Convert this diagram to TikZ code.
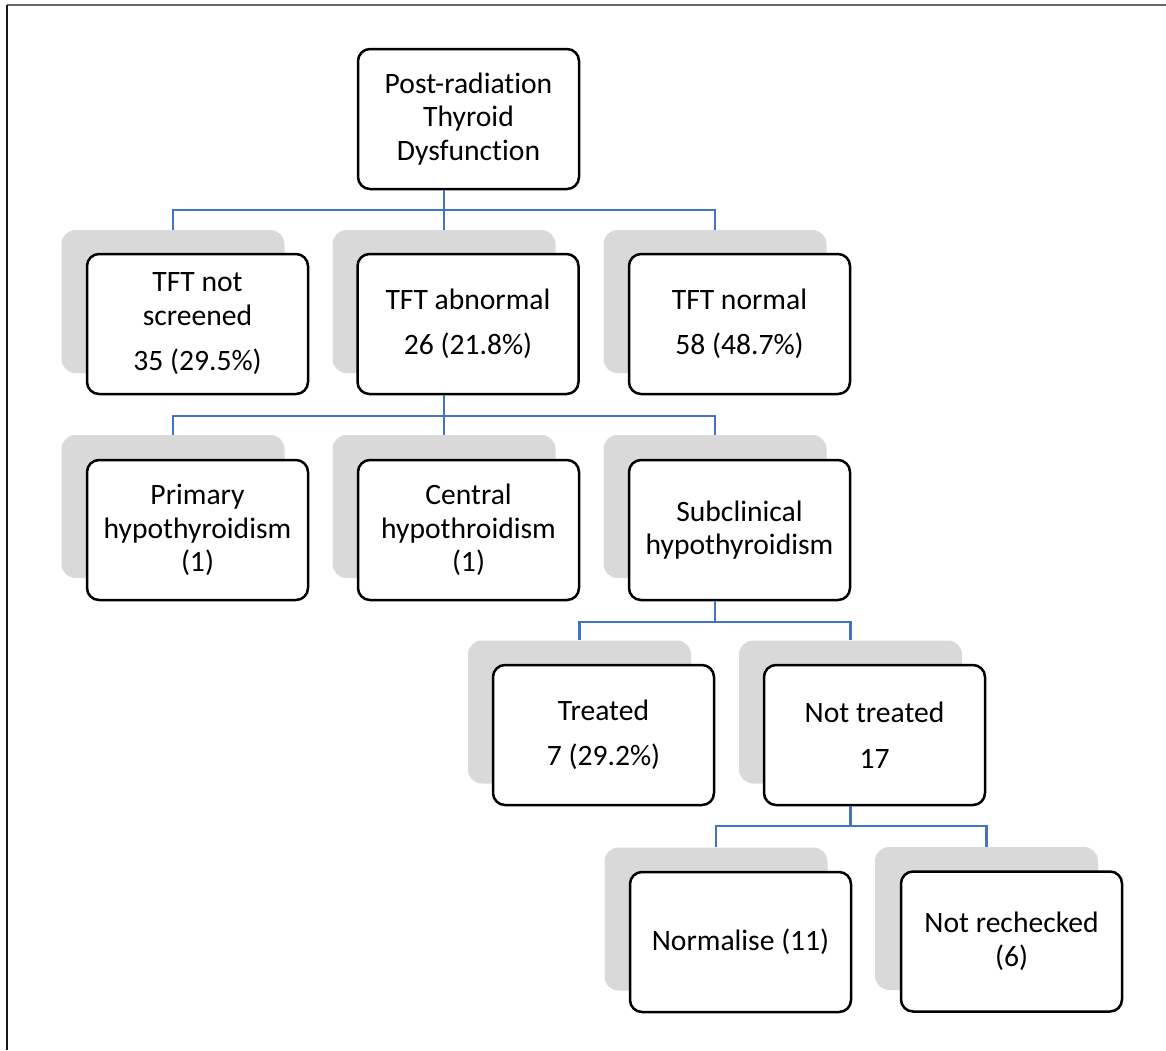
\documentclass[tikz,border=0pt]{standalone}
\usepackage{fontspec}
\setmainfont[Ligatures=NoCommon]{Carlito}
\usetikzlibrary{calc}
\definecolor{connblue}{HTML}{4472C4}
\definecolor{shadegray}{HTML}{D9D9D9}
\begin{document}
\begin{tikzpicture}[x=1pt,y=-1pt,
  fbox/.style={draw=black, line width=2.5pt, rounded corners=12pt, fill=white,
    minimum width=221pt, minimum height=140pt, align=center,
    font=\fontsize{29.6}{33.5}\selectfont, inner sep=0pt},
  sbox/.style={fill=shadegray, rounded corners=14pt, minimum width=223pt,
    minimum height=143pt, inner sep=0pt},
  link/.style={draw=connblue, line width=2.4pt},
  frameline/.style={line width=1.8pt}]
\useasboundingbox (0,0) rectangle (1166,1050);
\draw[frameline, draw=black!60] (7,5) -- (1166,5);
\draw[frameline, draw=black!90] (7,5) -- (7,1050);

% shadows
\node[sbox] (s1) at (173,301.5) {};
\node[sbox] (s2) at (444,301.5) {};
\node[sbox] (s3) at (715,301.5) {};
\node[sbox] (s4) at (173,506.5) {};
\node[sbox] (s5) at (444,506.5) {};
\node[sbox] (s6) at (715,506.5) {};
\node[sbox] (s7) at (579.5,712) {};
\node[sbox] (s8) at (850.5,712) {};
\node[sbox] (s9) at (716,919) {};
\node[sbox] (s10) at (986.5,918.5) {};

% front boxes
\node[fbox] (root) at (468.5,119) {Post-radiation\\Thyroid\\Dysfunction};
\node[fbox] (a1) at (197.5,324) {TFT not\\screened\\[12pt]35 (29.5\%)};
\node[fbox] (a2) at (468,324) {TFT abnormal\\[12pt]26 (21.8\%)};
\node[fbox] (a3) at (739.5,324) {TFT normal\\[12pt]58 (48.7\%)};
\node[fbox] (b1) at (197.5,530) {Primary\\hypothyroidism\\(1)};
\node[fbox] (b2) at (468.5,530) {Central\\hypothroidism\\(1)};
\node[fbox] (b3) at (739.5,530) {Subclinical\\hypothyroidism};
\node[fbox] (c1) at (603.5,735) {Treated\\[12pt]7 (29.2\%)};
\node[fbox] (c2) at (874.5,735) {Not treated\\[12pt]17};
\node[fbox] (d1) at (740.5,942) {Normalise (11)};
\node[fbox] (d2) at (1011.5,941.5) {Not rechecked\\(6)};

% junctions
\coordinate (j1) at (444,210);
\coordinate (j2) at (444,416);
\coordinate (j3) at (715,622);
\coordinate (j4) at (850.5,826);

% connectors
\draw[link] (root.south -| j1) -- (j1);
\draw[link] (s1.north) |- (j1) -| (s3.north);
\draw[link] (j1) -- (s2.north);
\draw[link] (a2.south -| j2) -- (j2);
\draw[link] (s4.north) |- (j2) -| (s6.north);
\draw[link] (j2) -- (s5.north);
\draw[link] (b3.south -| j3) -- (j3);
\draw[link] (s7.north) |- (j3) -| (s8.north);
\draw[link] (c2.south -| j4) -- (j4);
\draw[link] (s9.north) |- (j4) -| (s10.north);
\end{tikzpicture}
\end{document}
